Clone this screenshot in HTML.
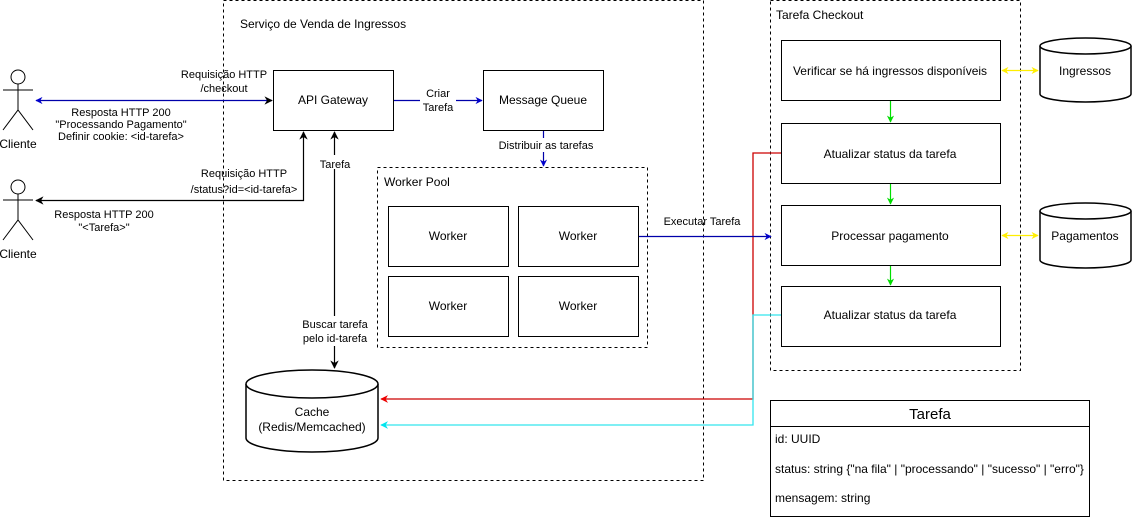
<!DOCTYPE html>
<html><head><meta charset="utf-8"><style>
html,body{margin:0;padding:0;background:#fff;}
svg{display:block;font-family:"Liberation Sans",sans-serif;}
</style></head><body>
<svg width="1132" height="520" viewBox="0 0 1132 520" xmlns="http://www.w3.org/2000/svg">
<defs>
<marker id="ab" viewBox="0 0 10 10" refX="9" refY="5" markerWidth="6" markerHeight="6" orient="auto-start-reverse"><path d="M0,0 L10,5 L0,10 L3,5z" fill="#0000cc"/></marker>
<marker id="ak" viewBox="0 0 10 10" refX="9" refY="5" markerWidth="7" markerHeight="7" orient="auto-start-reverse"><path d="M0,0 L10,5 L0,10 L3,5z" fill="#000"/></marker>
<marker id="ag" viewBox="0 0 10 10" refX="9" refY="5" markerWidth="6" markerHeight="6" orient="auto"><path d="M0,0 L10,5 L0,10 L3,5z" fill="#00dd00"/></marker>
<marker id="ay" viewBox="0 0 10 10" refX="9" refY="5" markerWidth="6" markerHeight="6" orient="auto-start-reverse"><path d="M0,0 L10,5 L0,10 L3,5z" fill="#ffee00"/></marker>
<marker id="ar" viewBox="0 0 10 10" refX="9" refY="5" markerWidth="6" markerHeight="6" orient="auto"><path d="M0,0 L10,5 L0,10 L3,5z" fill="#ee0000"/></marker>
<marker id="ac" viewBox="0 0 10 10" refX="9" refY="5" markerWidth="6" markerHeight="6" orient="auto"><path d="M0,0 L10,5 L0,10 L3,5z" fill="#00e5ee"/></marker>
</defs>
<g fill="none" stroke="#000" stroke-dasharray="3,3">
<rect x="223.5" y="0.5" width="480" height="480"/>
<rect x="770.5" y="0.5" width="250" height="370"/>
<rect x="377.5" y="167.5" width="270" height="180"/>
</g>
<g font-size="12" fill="#000">
<text x="240" y="28">Serviço de Venda de Ingressos</text>
<text x="776" y="19">Tarefa Checkout</text>
<text x="384" y="186">Worker Pool</text>
</g>
<g stroke="#000" fill="none" stroke-width="1">
<circle cx="18" cy="77" r="7" fill="#fff"/><path d="M18,84V110M3,90H33M3,130L18,110L33,130"/>
<circle cx="18" cy="187" r="7" fill="#fff"/><path d="M18,194V220M3,200H33M3,240L18,220L33,240"/>
</g>
<g font-size="12" text-anchor="middle">
<text x="18" y="148">Cliente</text><text x="18" y="258">Cliente</text>
</g>
<g fill="none" stroke-width="1.3">
<path d="M781,153 H753 V399 H381" stroke="#cc0000" marker-end="url(#ar)"/>
<path d="M781,315 H753 V425 H381" stroke="#33e5ee" marker-end="url(#ac)"/>
</g>
<g fill="#fff" stroke="#000">
<rect x="273.5" y="70.5" width="120" height="60"/>
<rect x="483.5" y="70.5" width="120" height="60"/>
<rect x="388.5" y="206.5" width="120" height="60"/>
<rect x="518.5" y="206.5" width="120" height="60"/>
<rect x="388.5" y="276.5" width="120" height="60"/>
<rect x="518.5" y="276.5" width="120" height="60"/>
<rect x="781.5" y="40.5" width="219" height="60"/>
<rect x="781.5" y="123.5" width="219" height="60"/>
<rect x="781.5" y="205.5" width="219" height="60"/>
<rect x="781.5" y="286.5" width="219" height="60"/>
<rect x="770.5" y="400.5" width="319" height="116"/>
</g>
<line x1="770" y1="426.5" x2="1090" y2="426.5" stroke="#000"/>
<g fill="#fff" stroke="#000" stroke-width="1.5">
<path d="M246,384 V438 A66,14 0 0 0 378,438 V384"/><ellipse cx="312" cy="384" rx="66" ry="14"/>
<path d="M1040,46 V94 A45.5,8 0 0 0 1131,94 V46"/><ellipse cx="1085.5" cy="46" rx="45.5" ry="8"/>
<path d="M1040,211 V260 A45.5,8 0 0 0 1131,260 V211"/><ellipse cx="1085.5" cy="211" rx="45.5" ry="8"/>
</g>
<g font-size="12" text-anchor="middle" fill="#000">
<text x="333" y="104">API Gateway</text>
<text x="543" y="104">Message Queue</text>
<text x="448" y="240">Worker</text><text x="578" y="240">Worker</text>
<text x="448" y="310">Worker</text><text x="578" y="310">Worker</text>
<text x="890" y="75">Verificar se há ingressos disponíveis</text>
<text x="890" y="158">Atualizar status da tarefa</text>
<text x="890" y="240">Processar pagamento</text>
<text x="890" y="319">Atualizar status da tarefa</text>
<text x="312" y="416">Cache</text><text x="312" y="431">(Redis/Memcached)</text>
<text x="1085" y="75">Ingressos</text>
<text x="1085" y="240">Pagamentos</text>
<text x="930" y="419" font-size="15">Tarefa</text>
</g>
<g font-size="12" fill="#000">
<text x="775" y="443">id: UUID</text>
<text x="775" y="473">status: string {"na fila" | "processando" | "sucesso" | "erro"}</text>
<text x="775" y="502">mensagem: string</text>
</g>
<g fill="none" stroke-width="1.2">
<line x1="36" y1="100.5" x2="272" y2="100.5" stroke="#0000aa" marker-start="url(#ab)" marker-end="url(#ak)"/>
<path d="M36,200.5 H303.5 V132" stroke="#000" marker-start="url(#ak)" marker-end="url(#ak)"/>
<path d="M334.5,132 V368" stroke="#000" marker-start="url(#ak)" marker-end="url(#ak)"/>
<line x1="394" y1="100.5" x2="482" y2="100.5" stroke="#0000aa" marker-end="url(#ab)"/>
<line x1="543.5" y1="131" x2="543.5" y2="166" stroke="#0000aa" marker-end="url(#ab)"/>
<line x1="639" y1="236.5" x2="771" y2="236.5" stroke="#0000aa" marker-end="url(#ab)"/>
<line x1="890.5" y1="101" x2="890.5" y2="122" stroke="#00dd00" marker-end="url(#ag)"/>
<line x1="890.5" y1="184" x2="890.5" y2="204" stroke="#00dd00" marker-end="url(#ag)"/>
<line x1="890.5" y1="266" x2="890.5" y2="285" stroke="#00dd00" marker-end="url(#ag)"/>
<line x1="1002" y1="70.5" x2="1038" y2="70.5" stroke="#ffee00" marker-start="url(#ay)" marker-end="url(#ay)"/>
<line x1="1002" y1="235.5" x2="1038" y2="235.5" stroke="#ffee00" marker-start="url(#ay)" marker-end="url(#ay)"/>
</g>
<g fill="#fff">
<rect x="420" y="87" width="36" height="28"/>
<rect x="498" y="138" width="96" height="14"/>
<rect x="318" y="155" width="34" height="14"/>
<rect x="300" y="316" width="70" height="30"/>
</g>
<g font-size="11" text-anchor="middle" fill="#000">
<text x="224" y="78">Requisição HTTP</text><text x="224" y="92">/checkout</text>
<text x="121" y="116">Resposta HTTP 200</text><text x="121" y="128">"Processando Pagamento"</text><text x="121" y="140">Definir cookie: &lt;id-tarefa&gt;</text>
<text x="244" y="177">Requisição HTTP</text><text x="244" y="193">/status?id=&lt;id-tarefa&gt;</text>
<text x="104" y="218">Resposta HTTP 200</text><text x="104" y="231">"&lt;Tarefa&gt;"</text>
<text x="438" y="97">Criar</text><text x="438" y="111">Tarefa</text>
<text x="546" y="149">Distribuir as tarefas</text>
<text x="335" y="168">Tarefa</text>
<text x="335" y="328">Buscar tarefa</text><text x="335" y="342">pelo id-tarefa</text>
<text x="702" y="225">Executar Tarefa</text>
</g>
</svg>
</body></html>
